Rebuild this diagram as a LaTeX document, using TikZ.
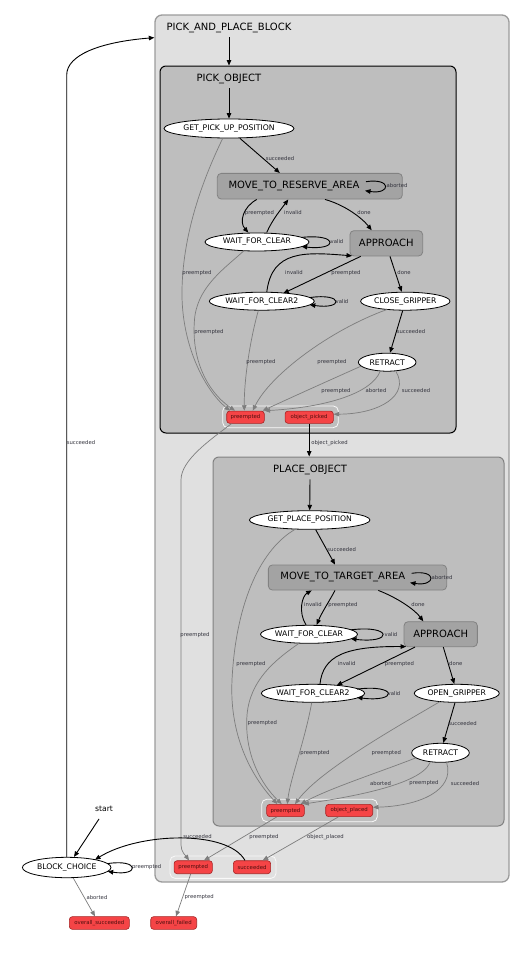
\documentclass[tikz,border=0pt]{standalone}
\usepackage{fontspec}
\setmainfont{DejaVu Sans}
\usetikzlibrary{arrows.meta,calc,shapes.geometric}
\definecolor{outerfill}{RGB}{224,224,224}
\definecolor{outerdraw}{RGB}{155,155,155}
\definecolor{clusterfill}{RGB}{190,190,190}
\definecolor{contfill}{RGB}{163,163,163}
\definecolor{contdraw}{RGB}{130,130,130}
\definecolor{redfill}{RGB}{245,68,70}
\definecolor{reddraw}{RGB}{165,35,35}
\definecolor{redtext}{RGB}{80,15,15}
\definecolor{gedgecol}{RGB}{125,125,125}
\definecolor{elabcol}{RGB}{50,50,60}
\newcommand\fclab{\fontsize{10}{12}\selectfont}
\newcommand\fstate{\fontsize{7.7}{9}\selectfont}
\newcommand\fedge{\fontsize{5.3}{6}\selectfont}
\newcommand\fout{\fontsize{5.4}{6}\selectfont}
\begin{document}
\begin{tikzpicture}[x=1pt,y=-1pt,
 outerbox/.style={rectangle, rounded corners=7pt, draw=outerdraw, line width=1.3pt, fill=outerfill, inner sep=0},
 pickbox/.style={rectangle, rounded corners=6pt, draw=black, line width=1pt, fill=clusterfill, inner sep=0},
 placebox/.style={rectangle, rounded corners=6pt, draw=contdraw, line width=1pt, fill=clusterfill, inner sep=0},
 ctr/.style={rectangle, rounded corners=4pt, draw=contdraw, line width=0.8pt, fill=contfill, inner sep=0, font=\fclab},
 stt/.style={ellipse, draw=black, line width=0.8pt, fill=white, inner sep=0, font=\fstate},
 outbox/.style={rectangle, rounded corners=3pt, draw=reddraw, line width=0.6pt, fill=redfill, inner sep=0, font=\fout, text=redtext},
 ocont/.style={rectangle, rounded corners=5pt, draw=white!95!gray, line width=0.8pt, inner sep=0},
 clab/.style={font=\fclab, inner sep=0},
 elab/.style={font=\fedge, text=elabcol, inner sep=0},
 blk/.style={draw=black, line width=0.9pt, -{Triangle[length=5.5pt,width=4.5pt]}},
 gry/.style={draw=gedgecol, line width=0.7pt, -{Triangle[length=5.5pt,width=4.5pt]}}
]
\useasboundingbox (0,0) rectangle (524,953);

% clusters
\node[outerbox, minimum width=354pt, minimum height=867pt] (outer) at (332,448.5) {};
\node[pickbox, minimum width=296pt, minimum height=367pt] (pick) at (308,249.5) {};
\node[placebox, minimum width=291pt, minimum height=369pt] (place) at (358.5,641.5) {};
\node[clab, anchor=base] (pabL) at (229,30) {PICK\_AND\_PLACE\_BLOCK};
\node[clab, anchor=base] (pickL) at (229,81) {PICK\_OBJECT};
\node[clab, anchor=base] (placeL) at (310,472.3) {PLACE\_OBJECT};

% pick states
\node[stt, minimum width=130pt, minimum height=19pt] (gpu) at (229,128.5) {GET\_PICK\_UP\_POSITION};
\node[ctr, minimum width=185pt, minimum height=25.7pt] (mtra) at (309.8,186.2) {};
\node[clab, anchor=base] (mtraT) at (294,188.3) {MOVE\_TO\_RESERVE\_AREA};
\node[stt, minimum width=104pt, minimum height=18pt] (wfc) at (257,242) {WAIT\_FOR\_CLEAR};
\node[ctr, minimum width=72.7pt, minimum height=25.3pt] (approach) at (386.3,243.3) {APPROACH};
\node[stt, minimum width=105pt, minimum height=18pt] (wfc2) at (261.8,301.2) {WAIT\_FOR\_CLEAR2};
\node[stt, minimum width=89.4pt, minimum height=18pt] (close) at (405.3,301.2) {CLOSE\_GRIPPER};
\node[stt, minimum width=57.6pt, minimum height=18pt] (retract) at (387.2,362.2) {RETRACT};
\node[ocont, minimum width=115.6pt, minimum height=21.7pt] (pcont) at (280.5,416.8) {};
\node[outbox, minimum width=37.6pt, minimum height=12.3pt] (pp) at (245.5,417.2) {preempted};
\node[outbox, minimum width=48.3pt, minimum height=12.3pt] (op) at (309.2,417.2) {object\_picked};

% place states
\node[stt, minimum width=120.6pt, minimum height=18.6pt] (gpp) at (309.7,520) {GET\_PLACE\_POSITION};
\node[ctr, minimum width=178.3pt, minimum height=25pt] (mtta) at (357.5,577.5) {};
\node[clab, anchor=base] (mttaT) at (342.8,579.3) {MOVE\_TO\_TARGET\_AREA};
\node[stt, minimum width=97pt, minimum height=18pt] (wfcP) at (309,634.3) {WAIT\_FOR\_CLEAR};
\node[ctr, minimum width=73.3pt, minimum height=25pt] (approachP) at (440.7,634.2) {APPROACH};
\node[stt, minimum width=99.4pt, minimum height=18pt] (wfc2P) at (313,693.3) {WAIT\_FOR\_CLEAR2};
\node[stt, minimum width=85pt, minimum height=18pt] (openG) at (456.8,693.3) {OPEN\_GRIPPER};
\node[stt, minimum width=57.6pt, minimum height=19pt] (retractP) at (440.5,752.8) {RETRACT};
\node[ocont, minimum width=115.6pt, minimum height=22.4pt] (plcont) at (319.5,810.5) {};
\node[outbox, minimum width=37.7pt, minimum height=12.3pt] (pP) at (285.5,810.5) {preempted};
\node[outbox, minimum width=47pt, minimum height=12.3pt] (opl) at (349.2,810.5) {object\_placed};

% outer states
\node[ocont, minimum width=106pt, minimum height=22.3pt] (outcont) at (223,867.2) {};
\node[outbox, minimum width=38.3pt, minimum height=13pt] (oP) at (193.2,867.2) {preempted};
\node[outbox, minimum width=37.3pt, minimum height=13pt] (oS) at (252,867.2) {succeeded};
\node[stt, minimum width=88.6pt, minimum height=20.4pt] (bc) at (66.7,867.5) {BLOCK\_CHOICE};
\node[font=\fstate, inner sep=0] (start) at (104,809) {start};
\node[outbox, minimum width=60pt, minimum height=12.7pt] (osu) at (99.3,923) {overall\_succeeded};
\node[outbox, minimum width=46pt, minimum height=12.7pt] (ofa) at (173.7,923) {overall\_failed};

% ---- pick edges
\draw[blk] ($(pabL.base)+(0,7)$) -- (pabL.base |- pick.north);
\draw[blk] ($(pickL.base)+(0,7)$) -- (gpu.north);
\draw[blk] ($(gpu.south)+(11,0)$) -- ($(mtra.north)+(-30,0)$);
\draw[blk] ($(mtra)+(56.2,-4.5)$) .. controls +(26,-4) and +(26,4) .. ($(mtra)+(55.2,4.5)$);
\draw[blk] ($(mtra.south)+(-53,0)$) .. controls (243,207) and (239,222) .. ($(wfc.north)+(-8.7,0)$);
\draw[blk] ($(wfc.north)+(9.7,0)$) .. controls (272,220) and (282,208) .. ($(mtra.south)+(-21.5,0)$);
\draw[blk] ($(mtra.south)+(15.2,0)$) .. controls (345,205) and (362,218) .. ($(approach.north)+(-14.6,0)$);
\draw[blk] ($(wfc)+(44.7,-4.6)$) .. controls +(37,-4) and +(37,4) .. ($(wfc)+(44.7,4.6)$);
\draw[blk] ($(wfc2.north)+(5,0)$) .. controls (272,250) and (305,252) .. ($(approach.south west)+(2.5,-0.5)$);
\draw[blk] ($(approach.south)+(-25.6,0)$) -- ($(wfc2)+(21.5,-7.9)$);
\draw[blk] ($(approach.south)+(3.7,0)$) -- ($(close.north)+(-3.6,0)$);
\draw[blk] ($(wfc2)+(48,-3.6)$) .. controls +(34,-5) and +(34,5) .. ($(wfc2)+(48,3.6)$);
\draw[blk] ($(close.south)+(-2.6,0)$) -- ($(retract.north)+(2.8,0)$);
\draw[blk] (op.south) -- (op.south |- place.north);

\draw[gry] ($(gpu.south)+(-6.3,0)$) .. controls (205,175) and (183,230) .. (182,290) .. controls (181,345) and (205,390) .. ($(pp.north)+(-15.5,0)$);
\draw[gry] ($(wfc)+(-13,8.7)$) .. controls (225,268) and (200,285) .. (195,315) .. controls (190,355) and (205,390) .. ($(pp.north)+(-10.5,0)$);
\draw[gry] ($(wfc2.south)+(-3.5,0)$) .. controls (250,340) and (244,380) .. ($(pp.north)+(-1.2,0)$);
\draw[gry] ($(close)+(-18,8.2)$) .. controls (330,330) and (270,375) .. ($(pp.north)+(7.2,0)$);
\draw[gry] ($(retract)+(-26,3.9)$) .. controls (330,380) and (290,398) .. ($(pp.north east)+(-2,0)$);
\draw[gry] ($(retract.south)+(-7.2,0)$) .. controls (372,392) and (330,407) .. (pp.north east);
\draw[gry] ($(retract.south)+(8.8,0)$) .. controls (410,395) and (380,414) .. ($(op.east)+(0,-3)$);
\draw[gry] ($(pp.south)+(-14,0)$) .. controls (210,440) and (181,460) .. (181,480) -- (181,845) .. controls (181,852) and (186,856) .. ($(oP.north)+(-4.2,0)$);

% ---- place edges
\draw[blk] ($(placeL.base)+(0,7)$) -- (gpp.north);
\draw[blk] ($(gpp.south)+(6,0)$) -- ($(mtta.north)+(-22.5,0)$);
\draw[blk] ($(mtta)+(54.2,-4.2)$) .. controls +(26,-4) and +(26,4) .. ($(mtta)+(52.5,5.2)$);
\draw[blk] ($(wfcP.north)+(-3,0)$) .. controls (298,612) and (302,596) .. ($(mtta.south)+(-45.8,0)$);
\draw[blk] ($(mtta.south)+(-22.5,0)$) .. controls (330,600) and (322,612) .. ($(wfcP.north)+(7.7,0)$);
\draw[blk] ($(mtta.south)+(20.8,0)$) .. controls (398,598) and (415,610) .. ($(approachP.north)+(-17.4,0)$);
\draw[blk] ($(wfcP)+(42,-4.5)$) .. controls +(42,-5) and +(42,5) .. ($(wfcP)+(42,4.5)$);
\draw[blk] ($(wfc2P.north)+(7,0)$) .. controls (323,656) and (345,646) .. ($(approachP.south west)+(2.5,-0.5)$);
\draw[blk] ($(approachP.south)+(-25.7,0)$) -- ($(wfc2P)+(23.7,-7.9)$);
\draw[blk] ($(approachP.south)+(2.6,0)$) -- ($(openG.north)+(-2.5,0)$);
\draw[blk] ($(wfc2P)+(44,-4.2)$) .. controls +(41,-5) and +(41,5) .. ($(wfc2P)+(44,4.2)$);
\draw[blk] ($(openG.south)+(-1.8,0)$) -- ($(retractP.north)+(2.8,0)$);

\draw[gry] ($(gpp)+(-14,9)$) .. controls (262,548) and (236,600) .. (232,680) .. controls (229,740) and (255,780) .. ($(pP.north)+(-8.2,0)$);
\draw[gry] ($(wfcP)+(-9.7,8.8)$) .. controls (275,660) and (250,680) .. (247,715) .. controls (244,755) and (262,785) .. ($(pP.north)+(-3.8,0)$);
\draw[gry] ($(wfc2P.south)+(-1.3,0)$) .. controls (305,740) and (290,780) .. ($(pP.north)+(1.8,0)$);
\draw[gry] ($(openG)+(-16.8,8.3)$) .. controls (400,725) and (320,770) .. ($(pP.north)+(9.5,0)$);
\draw[gry] ($(retractP)+(-24.5,5)$) .. controls (380,772) and (330,788) .. ($(pP.north east)+(-4,0)$);
\draw[gry] ($(retractP.south)+(-10.5,0)$) .. controls (420,785) and (350,797) .. ($(pP.north east)+(-1.3,0)$);
\draw[gry] ($(retractP.south)+(6.2,0)$) .. controls (455,790) and (420,806) .. ($(opl.east)+(0,-3.2)$);
\draw[gry] ($(pP.south)+(-8.8,0)$) -- ($(oP.north)+(10.8,0)$);
\draw[gry] ($(opl.south)+(-10.9,0)$) -- ($(oS.north)+(10.7,0)$);

% ---- outer edges
\draw[blk] ($(oS.north)+(-7,0)$) .. controls (228,830) and (140,832) .. ($(bc)+(28.3,-7.8)$);
\draw[blk] ($(bc)+(41,-3.9)$) .. controls +(32,-5) and +(32,5) .. ($(bc)+(41,3.9)$);
\draw[blk] ($(start.south)+(-5,7)$) -- ($(bc.north)+(7.3,0)$);
\draw[blk] (bc.north) -- (66.7,75) .. controls (66.7,55) and (100,42) .. ($(outer.north west)+(0,23.3)$);
\draw[gry] ($(bc.south)+(6.6,0)$) -- ($(osu.north)+(-4.3,0)$);
\draw[gry] ($(oP.south)+(-2.5,0)$) -- ($(ofa.north)+(2.3,0)$);

% ---- edge labels
\node[elab] (l1) at (280,159) {succeeded};
\node[elab] (l2) at (397,186) {aborted};
\node[elab] (l3) at (259.5,213) {preempted};
\node[elab] (l4) at (293,213) {invalid};
\node[elab] (l5) at (364,213) {done};
\node[elab] (l6) at (337,242) {valid};
\node[elab] (l7) at (294,273) {invalid};
\node[elab] (l8) at (346,273) {preempted};
\node[elab] (l9) at (404,273) {done};
\node[elab] (l10) at (342,302) {valid};
\node[elab] (l11) at (411,332) {succeeded};
\node[elab] (l12) at (197,273) {preempted};
\node[elab] (l13) at (209,332) {preempted};
\node[elab] (l14) at (261,362) {preempted};
\node[elab] (l15) at (332,362) {preempted};
\node[elab] (l16) at (336,391) {preempted};
\node[elab] (l17) at (376,391) {aborted};
\node[elab] (l18) at (416,391) {succeeded};
\node[elab] (l19) at (329.5,443) {object\_picked};
\node[elab] (l20) at (195,635) {preempted};

\node[elab] (m1) at (341.7,550) {succeeded};
\node[elab] (m2) at (442,577.7) {aborted};
\node[elab] (m3) at (313,605) {invalid};
\node[elab] (m4) at (343,605) {preempted};
\node[elab] (m5) at (418,605) {done};
\node[elab] (m6) at (391,634.3) {valid};
\node[elab] (m7) at (346.7,664) {invalid};
\node[elab] (m8) at (399.5,664) {preempted};
\node[elab] (m9) at (455.8,664) {done};
\node[elab] (m10) at (394,693.3) {valid};
\node[elab] (m11) at (462.5,723.3) {succeeded};
\node[elab] (m12) at (251,664) {preempted};
\node[elab] (m13) at (262.3,723.3) {preempted};
\node[elab] (m14) at (315,753.3) {preempted};
\node[elab] (m15) at (386.3,753.3) {preempted};
\node[elab] (m16) at (380.5,783.3) {aborted};
\node[elab] (m17) at (424,783.3) {preempted};
\node[elab] (m18) at (465,783.3) {succeeded};

\node[elab] (n1) at (264,837) {preempted};
\node[elab] (n2) at (325.5,837) {object\_placed};
\node[elab] (n3) at (197.5,837) {succeeded};
\node[elab] (n4) at (146.7,867.3) {preempted};
\node[elab] (n5) at (97,897.3) {aborted};
\node[elab] (n6) at (199.2,897.3) {preempted};
\node[elab] (n7) at (81,443) {succeeded};
\end{tikzpicture}
\end{document}
